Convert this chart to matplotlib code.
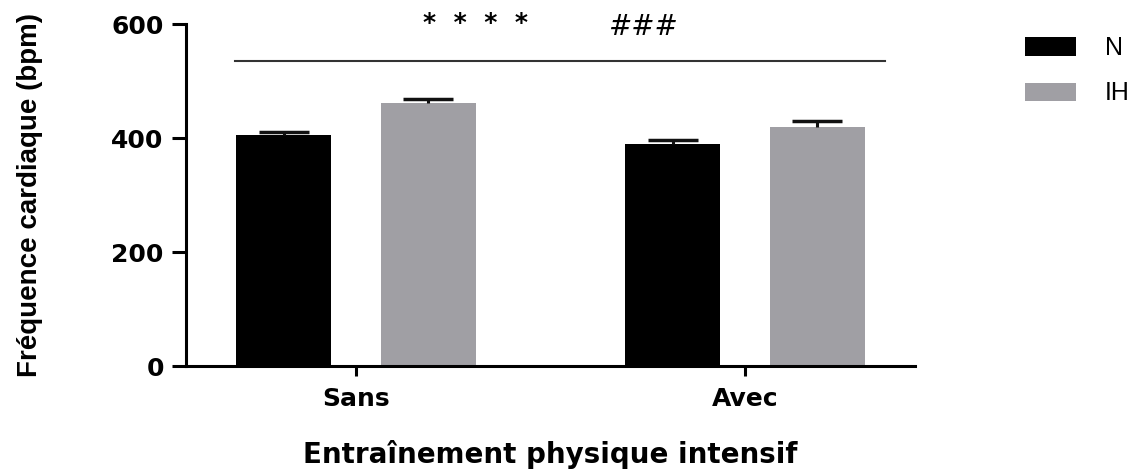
import matplotlib
matplotlib.use('Agg')
import matplotlib.pyplot as plt
import numpy as np

# Data
groups = ['Sans', 'Avec']
series = ['N', 'IH']
values_n = [405, 389]
values_ih = [461, 420]
err_n = [5, 7]
err_ih = [7, 9]
colors = ['#000000', '#a09fa4']
yticks = [0, 200, 400, 600]

fig = plt.figure(figsize=(11.42, 4.72), dpi=100)
ax = fig.add_axes([186 / 1142, 1 - 366 / 472, (915 - 186) / 1142, 342 / 472])

x = np.arange(len(groups))
width = 0.244
offset = 0.186

for vals, errs, col, lab, sgn in [(values_n, err_n, colors[0], series[0], -1),
                                   (values_ih, err_ih, colors[1], series[1], 1)]:
    ax.bar(x + sgn * offset, vals, width, color=col, label=lab, zorder=2)
    eb = ax.errorbar(x + sgn * offset, vals, yerr=[np.zeros(len(errs)), errs],
                     fmt='none', ecolor='#111111', elinewidth=2.2, capsize=18,
                     capthick=2.5, zorder=3)
    # only the upper cap is shown
    eb[1][0].set_visible(False)

ax.set_xlim(-0.437, 1.437)
ax.set_ylim(0, 600)
ax.set_yticks(yticks)
ax.set_xticks(x)
ax.set_xticklabels(groups, fontsize=18, fontweight='bold')
for lbl in ax.get_yticklabels():
    lbl.set_fontsize(18)
    lbl.set_fontweight('bold')

ax.spines['top'].set_visible(False)
ax.spines['right'].set_visible(False)
ax.spines['left'].set_linewidth(2.2)
ax.spines['bottom'].set_linewidth(2.2)
ax.tick_params(axis='y', length=10, width=2.2, pad=6)
ax.tick_params(axis='x', length=7, width=2.2, pad=8)

ax.set_ylabel('Fréquence cardiaque (bpm)', fontsize=20, fontweight='bold',
              family='Liberation Sans')
ax.yaxis.set_label_coords(-0.196, 0.5)
ax.set_xlabel('Entraînement physique intensif', fontsize=20, fontweight='bold', va='center')
ax.xaxis.set_label_coords(0.4995, -0.26)

# significance line and marks
ax.plot([-0.311, 1.36], [535, 535], color='#333333', lw=1.5, clip_on=False, zorder=1)
ax.text(0.306, 601, '*  *  *  *', ha='center', va='center', fontsize=18, fontweight='bold')
ax.text(0.738, 594, '###', ha='center', va='center', fontsize=20, style='italic')

ax.legend(loc='upper left', bbox_to_anchor=(1025 / 1142, 1 - 36 / 472),
          bbox_transform=fig.transFigure, frameon=False, borderpad=0,
          prop={'family': 'Liberation Sans', 'size': 18},
          handlelength=2.04, handleheight=0.76,
          labelspacing=0.86, handletextpad=1.16, borderaxespad=0)

fig.savefig('out.png', dpi=100)
